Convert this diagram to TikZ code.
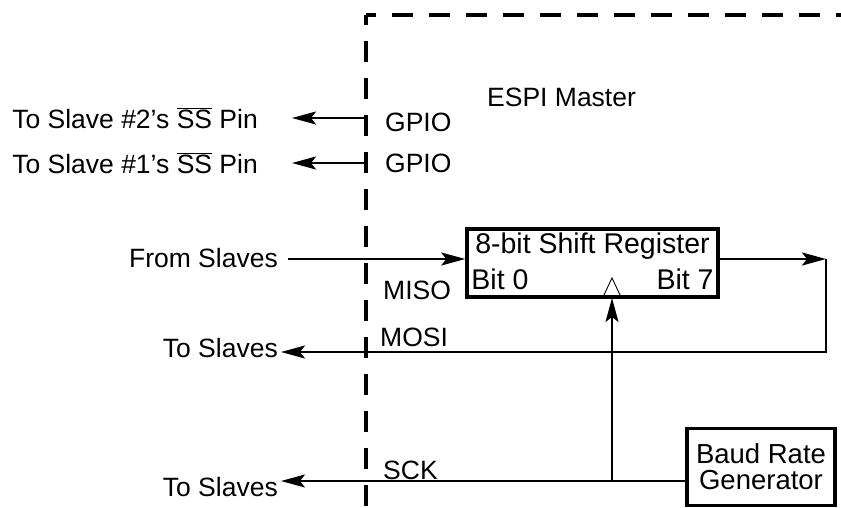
\documentclass[tikz,border=0pt]{standalone}
\usepackage{fontspec}
\setmainfont{Liberation Sans}
\usetikzlibrary{arrows.meta}

\begin{document}
\begin{tikzpicture}[x=1pt, y=-1pt,
                    font=\fontsize{26.5}{29}\selectfont,
                    lbl/.style={inner sep=0pt, anchor=west},
                    outlbl/.style={inner sep=0pt, anchor=east},
                    boxtxt/.style={inner sep=0pt, font=\fontsize{28.5}{30}\selectfont},
                    sig/.style={line width=2.2pt, -{Stealth[length=24pt, width=13pt, inset=5pt]}},
                    thinsig/.style={line width=1.3pt, -{Stealth[length=24pt, width=13pt, inset=5pt]}},
                    border/.style={line width=3.2pt, dash pattern=on 21pt off 16pt, dash phase=11pt},
                    regbox/.style={draw, line width=3.5pt, inner sep=0pt}]
                    \useasboundingbox (0,0) rectangle (841,507);

                    % boundary of the master
                    \coordinate (corner) at (366,15);
                    \draw[border] (corner) -- (366,507);
                    \draw[border] (corner) -- (841,15);
                    \node[lbl] (master) at (487,97) {ESPI Master};

                    % GPIO pins
                    \node[lbl] (gpio2) at (385,122) {GPIO};
                    \node[lbl] (gpio1) at (385,163) {GPIO};
                    \node[outlbl] (ss2) at (258,118) {To Slave \#2’s $\overline{\hbox{SS}}$ Pin};
                    \node[outlbl] (ss1) at (258,163) {To Slave \#1’s $\overline{\hbox{SS}}$ Pin};
                    \coordinate (pin2) at (366,118);
                    \coordinate (pin1) at (366,163);
                    \coordinate (ss2end) at (292,118);
                    \coordinate (ss1end) at (292,163);
                    \draw[sig] (pin2) -- (ss2end);
                    \draw[sig] (pin1) -- (ss1end);

                    % shift register
                    \node[regbox, minimum width=251, minimum height=68] (sr) at (592.5,263) {};
                    \node[boxtxt, anchor=north] (srtitle) at ([yshift=-5pt]sr.north) {8-bit Shift Register};
                    \node[boxtxt, anchor=south west] (bit0) at ([xshift=6pt, yshift=9pt]sr.south west) {Bit 0};
                    \node[boxtxt, anchor=south east] (bit7) at ([xshift=-6pt, yshift=9pt]sr.south east) {Bit 7};
                    \coordinate (tri) at (612,297);
                    \draw[line width=0.9pt] ([xshift=-9pt]tri) -- ([yshift=19pt]tri) -- ([xshift=9pt]tri);

                    % MISO
                    \node[outlbl] (from) at (278,258) {From Slaves};
                    \node[lbl] (miso) at (383,290) {MISO};
                    \coordinate (fromend) at (288,259);
                    \draw[sig] (fromend) -- ([yshift=4pt]sr.west);

                    % MOSI
                    \coordinate (loop) at (826,259);
                    \coordinate (mosiend) at (281,352);
                    \node[outlbl] (mosito) at (278,348) {To Slaves};
                    \node[lbl] (mosi) at (380,337) {MOSI};
                    \draw[sig] ([yshift=4pt]sr.east) -- (loop);
                    \draw[sig] (loop) |- (mosiend);

                    % baud rate generator and SCK
                    \node[regbox, minimum width=148, minimum height=77, align=center,
                          font=\fontsize{27.5}{29}\selectfont] (baud) at (761,467) {Baud Rate\\[-3pt]Generator};
                    \coordinate (sckout) at (687,481);
                    \coordinate (sckend) at (281,481);
                    \coordinate (clk) at (612,481);
                    \node[outlbl] (sckto) at (278,487) {To Slaves};
                    \node[lbl] (sck) at (383,470) {SCK};
                    \draw[thinsig] (sckout) -- (sckend);
                    \draw[thinsig] (clk) -- ([yshift=-1pt]tri);
\end{tikzpicture}
\end{document}
